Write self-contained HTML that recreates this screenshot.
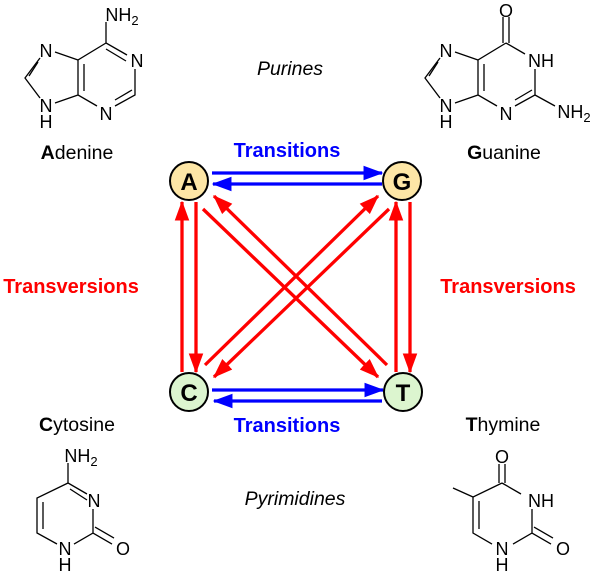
<!DOCTYPE html>
<html><head><style>
html,body{margin:0;padding:0;background:#fff;}
svg{display:block;}
text{font-family:"Liberation Sans",Arial,sans-serif;}
</style></head><body>
<svg width="600" height="575" viewBox="0 0 600 575" xmlns="http://www.w3.org/2000/svg">
<defs>
<marker id="r" markerWidth="6" markerHeight="4.4" refX="5.6" refY="2.2" orient="auto" markerUnits="strokeWidth"><path d="M0,0 L6,2.2 L0,4.4 Z" fill="#f00"/></marker>
<marker id="b" markerWidth="6" markerHeight="4.4" refX="5.6" refY="2.2" orient="auto" markerUnits="strokeWidth"><path d="M0,0 L6,2.2 L0,4.4 Z" fill="#00f"/></marker>
</defs>
<g stroke="#00f" stroke-width="3.3" fill="none">
<line x1="212" y1="173" x2="382" y2="173" marker-end="url(#b)"/>
<line x1="382" y1="184" x2="213" y2="184" marker-end="url(#b)"/>
<line x1="212" y1="390" x2="383" y2="390" marker-end="url(#b)"/>
<line x1="382" y1="401" x2="214" y2="401" marker-end="url(#b)"/>
</g>
<g stroke="#f00" stroke-width="3.3" fill="none">
<line x1="182" y1="372" x2="182" y2="202" marker-end="url(#r)"/>
<line x1="196" y1="202" x2="196" y2="372" marker-end="url(#r)"/>
<line x1="396" y1="372" x2="396" y2="202" marker-end="url(#r)"/>
<line x1="410" y1="202" x2="410" y2="372" marker-end="url(#r)"/>
<line x1="203" y1="209" x2="378" y2="377" marker-end="url(#r)"/>
<line x1="387" y1="365" x2="214" y2="196" marker-end="url(#r)"/>
<line x1="389" y1="209" x2="214" y2="377" marker-end="url(#r)"/>
<line x1="205" y1="365" x2="378" y2="196" marker-end="url(#r)"/>
</g>
<g stroke="#000" stroke-width="2">
<circle cx="189" cy="181" r="19" fill="#fde6a6"/>
<circle cx="402" cy="181" r="19" fill="#fde6a6"/>
<circle cx="189" cy="392" r="19" fill="#dcf5cf"/>
<circle cx="403" cy="392" r="19" fill="#dcf5cf"/>
</g>
<g font-weight="bold" font-size="24" text-anchor="middle">
<text x="189" y="190">A</text><text x="402" y="190">G</text>
<text x="189" y="401">C</text><text x="403" y="401">T</text>
</g>
<g font-weight="bold" font-size="20">
<text x="287" y="157" fill="#00f" text-anchor="middle">Transitions</text>
<text x="287" y="432" fill="#00f" text-anchor="middle">Transitions</text>
<text x="71" y="293" fill="#f00" text-anchor="middle">Transversions</text>
<text x="508" y="293" fill="#f00" text-anchor="middle">Transversions</text>
</g>
<g font-size="19.5" text-anchor="middle">
<text x="77" y="159"><tspan font-weight="bold">A</tspan>denine</text>
<text x="504" y="159"><tspan font-weight="bold">G</tspan>uanine</text>
<text x="77" y="431"><tspan font-weight="bold">C</tspan>ytosine</text>
<text x="503" y="431"><tspan font-weight="bold">T</tspan>hymine</text>
<text x="290" y="75" font-style="italic">Purines</text>
<text x="295" y="505" font-style="italic">Pyrimidines</text>
</g>
<g stroke="#000" stroke-width="1.3" fill="none">
<path d="M106,22 L106,43 L127,55 M135,69 L135,95 L115,106 M97,106 L78,95 L78,60 L106,43 M78,60 L55,52 M40,58 L25,78 L40,98 M55,103 L78,95"/>
<path d="M106,49 L126,61 M132,90 L115,100 M84,64 L84,91 M38,62 L29,76"/>
</g>
<g font-size="18" text-anchor="middle">
<text x="122" y="21">NH<tspan font-size="13" dy="4">2</tspan></text>
<text x="137" y="67">N</text><text x="106" y="120">N</text>
<text x="46" y="57">N</text><text x="46" y="112">N</text><text x="46" y="128">H</text>
</g>
<g stroke="#000" stroke-width="1.3" fill="none">
<path d="M503,17 L503,43 M509,17 L509,43 M506,43 L525,54 M535,69 L535,95 L515,106 M497,106 L478,95 L478,60 L506,43 M478,60 L455,52 M440,58 L425,78 L440,98 M455,103 L478,95 M535,95 L555,106"/>
<path d="M532,90 L515,100 M484,64 L484,91 M438,62 L429,76"/>
</g>
<g font-size="18" text-anchor="middle">
<text x="506" y="17">O</text>
<text x="541" y="67">NH</text><text x="506" y="120">N</text>
<text x="446" y="57">N</text><text x="446" y="112">N</text><text x="446" y="128">H</text>
<text x="574" y="118">NH<tspan font-size="13" dy="4">2</tspan></text>
</g>
<g stroke="#000" stroke-width="1.3" fill="none">
<path d="M68,463 L68,483 L87,494 M93,509 L93,533 L74,544 M57,544 L37,533 L37,498 L68,483 M93,533 L112,544 M95,527 L114,538"/>
<path d="M70,489 L87,500 M43,502 L43,529"/>
</g>
<g font-size="18" text-anchor="middle">
<text x="81" y="462">NH<tspan font-size="13" dy="4">2</tspan></text>
<text x="94" y="507">N</text><text x="65" y="555">N</text><text x="65" y="571">H</text><text x="123" y="555">O</text>
</g>
<g stroke="#000" stroke-width="1.3" fill="none">
<path d="M499,464 L499,483 M505,464 L505,483 M502,483 L521,494 M532,509 L532,533 L513,544 M492,544 L473,533 L473,497 L502,483 M473,497 L453,488 M532,533 L551,544 M534,527 L553,538"/>
<path d="M479,501 L479,529"/>
</g>
<g font-size="18" text-anchor="middle">
<text x="502" y="463">O</text>
<text x="541" y="507">NH</text><text x="502" y="555">N</text><text x="502" y="571">H</text><text x="563" y="555">O</text>
</g>
</svg>
</body></html>
